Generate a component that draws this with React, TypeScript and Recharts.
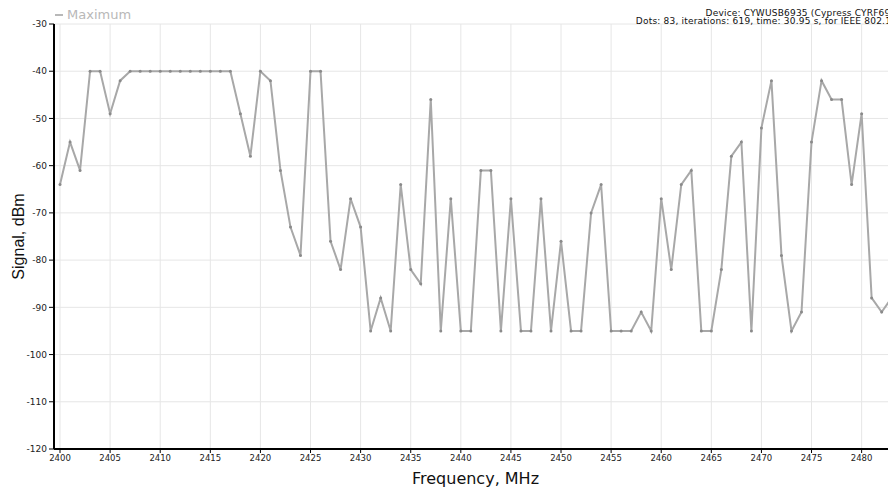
import React from 'react';
import { LineChart, Line, XAxis, YAxis, CartesianGrid, Legend } from 'recharts';

const frequencies: number[] = Array.from({ length: 84 }, (_, i) => 2400 + i);

const maximum: number[] = [
  -64, -55, -61, -40, -40, -49, -42, -40, -40, -40,
  -40, -40, -40, -40, -40, -40, -40, -40, -49, -58,
  -40, -42, -61, -73, -79, -40, -40, -76, -82, -67,
  -73, -95, -88, -95, -64, -82, -85, -46, -95, -67,
  -95, -95, -61, -61, -95, -67, -95, -95, -67, -95,
  -76, -95, -95, -70, -64, -95, -95, -95, -91, -95,
  -67, -82, -64, -61, -95, -95, -82, -58, -55, -95,
  -52, -42, -79, -95, -91, -55, -42, -46, -46, -64,
  -49, -88, -91, -88,
];

const xTicks: number[] = [2400, 2405, 2410, 2415, 2420, 2425, 2430, 2435, 2440, 2445, 2450, 2455, 2460, 2465, 2470, 2475, 2480];
const yTicks: number[] = [-120, -110, -100, -90, -80, -70, -60, -50, -40, -30];

const seriesName = 'Maximum';
const infoLine1 = 'Device: CYWUSB6935 (Cypress CYRF6936)';
const infoLine2 = 'Dots: 83, iterations: 619, time: 30.95 s, for IEEE 802.15.4';

const data = frequencies.map((f, i) => ({ freq: f, max: maximum[i] }));

const FONT = '"DejaVu Sans", Verdana, sans-serif';

const LegendContent = () => (
  <div style={{ position: 'relative', height: 0, width: 900 }}>
    <div style={{ position: 'absolute', left: 55, top: 7, display: 'flex', alignItems: 'center', fontFamily: FONT, fontSize: 13, lineHeight: '15px', color: '#b8b8b8', whiteSpace: 'nowrap' }}>
      <span style={{ display: 'inline-block', width: 8, height: 2, background: '#b8b8b8', marginRight: 4 }} />
      <span>{seriesName}</span>
    </div>
    <div style={{ position: 'absolute', right: -6, top: 10, fontFamily: FONT, fontSize: 9, letterSpacing: 0.2, lineHeight: '7.5px', color: '#111', whiteSpace: 'nowrap', textAlign: 'right' }}>
      <div>{infoLine1}</div>
      <div>{infoLine2}</div>
    </div>
  </div>
);

const XLabel = (props: any) => {
  const vb = props.viewBox || {};
  return (
    <text x={vb.x + vb.width / 2} y={484} textAnchor="middle" fontFamily={FONT} fontSize={16} fill="#111">
      Frequency, MHz
    </text>
  );
};

const YLabel = (props: any) => {
  const vb = props.viewBox || {};
  const cy = vb.y + vb.height / 2;
  return (
    <text x={24} y={cy} transform={`rotate(-90 24 ${cy})`} textAnchor="middle" fontFamily='"Liberation Sans", Arial, sans-serif' fontSize={16} fill="#111">
      Signal, dBm
    </text>
  );
};

export default function App() {
  return (
    <div style={{ position: 'absolute', left: 0, top: 0, width: 888, height: 488, overflow: 'hidden', background: '#fff' }}>
      <LineChart width={900} height={488} data={data} margin={{ top: 24, right: 3, bottom: 0, left: 0 }}>
        <CartesianGrid stroke="#e6e6e6" strokeWidth={1} vertical horizontal />
        <XAxis
          dataKey="freq"
          type="number"
          domain={[2399.4, 2483.53]}
          allowDataOverflow
          ticks={xTicks}
          height={39}
          tickSize={4}
          stroke="#000"
          strokeWidth={2}
          tick={{ fill: '#222', fontSize: 8.5, fontFamily: FONT }}
          tickLine={{ stroke: '#000', strokeWidth: 1 }}
          interval={0}
          label={<XLabel />}
        />
        <YAxis
          type="number"
          domain={[-120, -30]}
          ticks={yTicks}
          width={54}
          tickSize={5}
          stroke="#000"
          strokeWidth={2}
          tick={{ fill: '#222', fontSize: 9, fontFamily: FONT }}
          tickLine={{ stroke: '#000', strokeWidth: 1 }}
          interval={0}
          label={<YLabel />}
        />
        <Legend verticalAlign="top" align="left" wrapperStyle={{ top: 0, left: 0, height: 0 }} content={<LegendContent />} />
        <Line
          type="linear"
          dataKey="max"
          name={seriesName}
          stroke="#a8a8a8"
          strokeWidth={2}
          dot={{ r: 1.5, fill: '#8a8a8a', stroke: 'none' }}
          activeDot={false}
          isAnimationActive={false}
        />
      </LineChart>
    </div>
  );
}
